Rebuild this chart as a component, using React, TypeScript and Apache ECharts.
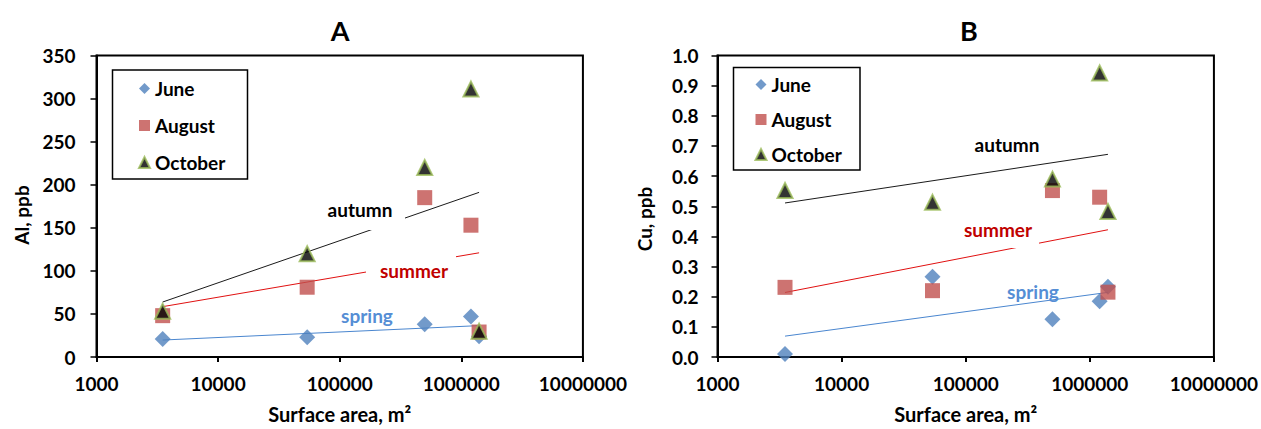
import React, { useEffect, useRef } from "react";
import * as echarts from "echarts";

const SURFACE_AREA = [3500, 54000, 500000, 1200000, 1400000];
const AL_JUNE = [21, 23, 38, 47, 24];
const AL_AUGUST = [48, 81, 185, 153, 29];
const AL_OCTOBER = [53, 120, 220, 311, 30];
const CU_JUNE = [0.01, 0.266, 0.125, 0.185, 0.233];
const CU_AUGUST = [0.231, 0.22, 0.552, 0.53, 0.215];
const CU_OCTOBER = [0.552, 0.513, 0.59, 0.942, 0.483];
const X_TICKS = [1000, 10000, 100000, 1000000, 10000000];
const SERIES_NAMES = ["June", "August", "October"];
const TREND_NAMES = ["spring", "summer", "autumn"];

const FONT = 'Lato, "Open Sans", sans-serif';

function fitLog(xs: number[], ys: number[]) {
  const lx = xs.map((v) => Math.log10(v));
  const n = lx.length;
  const mx = lx.reduce((a, b) => a + b, 0) / n;
  const my = ys.reduce((a, b) => a + b, 0) / n;
  let sxy = 0;
  let sxx = 0;
  for (let i = 0; i < n; i++) {
    sxy += (lx[i] - mx) * (ys[i] - my);
    sxx += (lx[i] - mx) * (lx[i] - mx);
  }
  const a = sxy / sxx;
  const b = my - a * mx;
  const x0 = Math.min(...xs);
  const x1 = Math.max(...xs);
  return [
    [x0, a * Math.log10(x0) + b],
    [x1, a * Math.log10(x1) + b],
  ];
}

type PanelCfg = {
  title: string;
  titleX: number;
  yName: string;
  yNameX: number;
  yNameY: number;
  grid: { left: number; right: number; top: number; bottom: number };
  yMax: number;
  yInterval: number;
  yDecimals: number;
  yLabelMargin: number;
  june: number[];
  august: number[];
  october: number[];
  legendBox: { x: number; y: number; width: number; height: number };
  legendLeft: number;
  legendTop: number;
  legendGap: number;
  labels: { text: string; x: number; y: number; color: string }[];
  masks: { x: number; y: number; width: number; height: number }[];
};

function makeOption(c: PanelCfg) {
  const pairs = (ys: number[]) => SURFACE_AREA.map((x, i) => [x, ys[i]]);
  const trendColors = ["#4a86cf", "#e01010", "#1a1a1a"];
  const trendData = [c.june, c.august, c.october];
  const graphic: any[] = [
    {
      type: "text",
      x: c.titleX,
      y: 30,
      z: 5,
      style: {
        text: c.title,
        fontSize: 27,
        fontWeight: "bold",
        fontFamily: FONT,
        fill: "#000",
        align: "center",
        verticalAlign: "middle",
      },
    },
    {
      type: "text",
      x: c.yNameX,
      y: c.yNameY,
      rotation: Math.PI / 2,
      z: 5,
      style: {
        text: c.yName,
        fontSize: 19,
        fontWeight: "bold",
        fontFamily: FONT,
        fill: "#000",
        align: "center",
        verticalAlign: "middle",
      },
    },
    {
      type: "rect",
      z: 0,
      shape: c.legendBox,
      style: { fill: "#fff", stroke: "#000", lineWidth: 1.5 },
    },
  ];
  c.masks.forEach((m) => {
    graphic.push({
      type: "rect",
      z: 2,
      shape: m,
      style: { fill: "#fff", stroke: null },
    });
  });
  c.labels.forEach((l) => {
    graphic.push({
      type: "text",
      x: l.x,
      y: l.y,
      z: 2,
      style: {
        text: l.text,
        fontSize: 19,
        fontWeight: "bold",
        fontFamily: FONT,
        fill: l.color,
        align: "center",
        verticalAlign: "middle",
      },
    });
  });

  return {
    animation: false,
    backgroundColor: "#fff",
    grid: {
      ...c.grid,
      show: true,
      borderColor: "#000",
      borderWidth: 2,
      backgroundColor: "transparent",
    },
    legend: {
      orient: "vertical",
      left: c.legendLeft,
      top: c.legendTop,
      padding: 0,
      itemWidth: 11,
      itemHeight: 11,
      itemGap: c.legendGap,
      data: SERIES_NAMES,
      textStyle: {
        fontSize: 19,
        fontWeight: "bold",
        fontFamily: FONT,
        color: "#000",
        lineHeight: 18,
      },
    },
    xAxis: {
      type: "log",
      logBase: 10,
      min: X_TICKS[0],
      max: X_TICKS[X_TICKS.length - 1],
      name: "Surface area, m²",
      nameLocation: "middle",
      nameGap: 47,
      nameTextStyle: {
        fontSize: 20,
        fontWeight: "bold",
        fontFamily: FONT,
        color: "#000",
      },
      axisLine: { lineStyle: { color: "#000", width: 2 } },
      axisTick: { show: true, length: 5, lineStyle: { color: "#000", width: 2 } },
      minorTick: { show: false },
      splitLine: { show: false },
      axisLabel: {
        margin: 17,
        fontSize: 19,
        fontWeight: "bold",
        fontFamily: FONT,
        color: "#000",
        formatter: (v: number) => String(Math.round(v)),
      },
    },
    yAxis: {
      type: "value",
      min: 0,
      max: c.yMax,
      interval: c.yInterval,
      axisLine: { show: true, lineStyle: { color: "#000", width: 2 } },
      axisTick: { show: true, length: 6, lineStyle: { color: "#000", width: 1.5 } },
      splitLine: { show: false },
      axisLabel: {
        margin: c.yLabelMargin,
        fontSize: 19,
        fontWeight: "bold",
        fontFamily: FONT,
        color: "#000",
        formatter: (v: number) => v.toFixed(c.yDecimals),
      },
    },
    graphic,
    series: [
      ...trendData.map((ys, i) => ({
        name: TREND_NAMES[i],
        type: "line",
        z: 1,
        data: fitLog(SURFACE_AREA, ys),
        showSymbol: false,
        symbol: "none",
        silent: true,
        lineStyle: { color: trendColors[i], width: 1 },
      })),
      {
        name: "June",
        type: "scatter",
        z: 3,
        symbol: "diamond",
        symbolSize: 16,
        data: pairs(c.june),
        itemStyle: { color: "#4f81bd" },
      },
      {
        name: "August",
        type: "scatter",
        z: 3,
        symbol: "rect",
        symbolSize: 15,
        data: pairs(c.august),
        itemStyle: { color: "#c0504d" },
      },
      {
        name: "October",
        type: "scatter",
        z: 3,
        symbol: "triangle",
        symbolSize: 15,
        data: pairs(c.october),
        itemStyle: { color: "#000", borderColor: "#9bbb59", borderWidth: 2 },
      },
    ],
  };
}

const LEFT: PanelCfg = {
  title: "A",
  titleX: 340,
  yName: "Al, ppb",
  yNameX: 21,
  yNameY: 215,
  grid: { left: 96.5, right: 34, top: 55.5, bottom: 67.5 },
  yMax: 350,
  yInterval: 50,
  yDecimals: 0,
  yLabelMargin: 21,
  june: AL_JUNE,
  august: AL_AUGUST,
  october: AL_OCTOBER,
  legendBox: { x: 112.5, y: 70, width: 135, height: 109 },
  legendLeft: 138,
  legendTop: 79,
  legendGap: 18,
  labels: [
    { text: "autumn", x: 360, y: 209, color: "#000" },
    { text: "summer", x: 414, y: 270, color: "#c00000" },
    { text: "spring", x: 367, y: 315, color: "#558ed5" },
  ],
  masks: [
    { x: 322, y: 192, width: 83, height: 38 },
    { x: 366, y: 256, width: 90, height: 25 },
  ],
};

const RIGHT: PanelCfg = {
  title: "B",
  titleX: 339,
  yName: "Cu, ppb",
  yNameX: 14,
  yNameY: 219,
  grid: { left: 87.5, right: 44, top: 55.5, bottom: 67.5 },
  yMax: 1,
  yInterval: 0.1,
  yDecimals: 1,
  yLabelMargin: 19,
  june: CU_JUNE,
  august: CU_AUGUST,
  october: CU_OCTOBER,
  legendBox: { x: 103.5, y: 67.5, width: 126.5, height: 102.5 },
  legendLeft: 124.5,
  legendTop: 75,
  legendGap: 16,
  labels: [
    { text: "autumn", x: 377, y: 144, color: "#000" },
    { text: "summer", x: 368, y: 229, color: "#c00000" },
    { text: "spring", x: 403, y: 291, color: "#558ed5" },
  ],
  masks: [{ x: 328, y: 211, width: 81, height: 37 }],
};

function Panel({ cfg, width }: { cfg: PanelCfg; width: number }) {
  const ref = useRef<HTMLDivElement>(null);
  useEffect(() => {
    if (!ref.current) return;
    const chart = echarts.init(ref.current, undefined, { renderer: "svg" });
    chart.setOption(makeOption(cfg) as any);
    return () => chart.dispose();
  }, [cfg]);
  return <div ref={ref} style={{ width, height: 429, overflow: "hidden" }} />;
}

export default function App() {
  return (
    <div
      style={{
        position: "absolute",
        left: 0,
        top: 0,
        width: 1261,
        height: 429,
        display: "flex",
        background: "#fff",
      }}
    >
      <Panel cfg={LEFT} width={630} />
      <Panel cfg={RIGHT} width={631} />
    </div>
  );
}
